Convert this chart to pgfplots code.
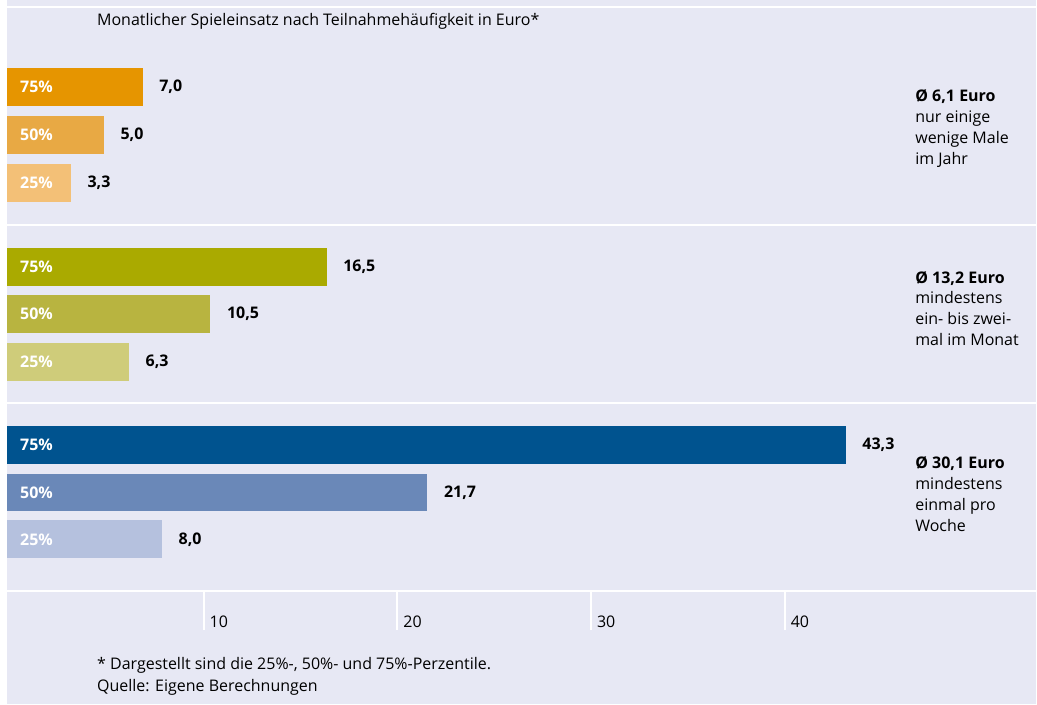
\documentclass[border=0pt]{standalone}
\usepackage{pgfplots}
\pgfplotsset{compat=1.18}
\usepackage{fontspec}
\setmainfont{Open Sans}
\definecolor{bg}{HTML}{E7E8F4}
\definecolor{oA}{HTML}{E69500}
\definecolor{oB}{HTML}{E8A944}
\definecolor{oC}{HTML}{F3C077}
\definecolor{gA}{HTML}{AAAA00}
\definecolor{gB}{HTML}{B8B440}
\definecolor{gC}{HTML}{CFCC7A}
\definecolor{bA}{HTML}{00538F}
\definecolor{bB}{HTML}{6A88B8}
\definecolor{bC}{HTML}{B5C1DE}
\newcommand{\tf}{\fontsize{12}{15.75}\selectfont}
\begin{document}
\begin{tikzpicture}
\begin{axis}[
  scale only axis, width=777.75pt, height=528.75pt,
  xmin=-0.361, xmax=53.12, ymin=0, ymax=705, y dir=reverse,
  axis lines=none, xtick=\empty, ytick=\empty,
  axis background/.style={fill=bg},
  xbar, bar width=38, bar shift=0pt, clip=false,
  point meta=x,
  nodes near coords,
  every node near coord/.append style={anchor=west, xshift=9pt, text=black,
     font=\tf\bfseries,
     /pgf/number format/assume math mode=true,
     /pgf/number format/fixed, /pgf/number format/fixed zerofill,
     /pgf/number format/precision=1, /pgf/number format/use comma},
]
% white strip and separator lines
\fill[white] (axis cs:-0.361,0) rectangle (axis cs:-0.02,705);
\pgfplotsinvokeforeach{7,225,403,592}{
  \draw[white, line width=1.6pt] (axis cs:0,#1) -- (axis cs:53.12,#1);
}
\pgfplotsinvokeforeach{10,20,30,40}{
  \draw[white, line width=1.6pt] (axis cs:#1+0.15,592) -- (axis cs:#1+0.15,631);
  \node[anchor=base west, inner sep=0pt, font=\tf] at (axis cs:#1+0.45,628) {#1};
}
% bars
\addplot[fill=oA, draw=none] coordinates {(7.0,87)};
\addplot[fill=oB, draw=none] coordinates {(5.0,135)};
\addplot[fill=oC, draw=none] coordinates {(3.3,183)};
\addplot[fill=gA, draw=none] coordinates {(16.5,267)};
\addplot[fill=gB, draw=none] coordinates {(10.5,314)};
\addplot[fill=gC, draw=none] coordinates {(6.3,362)};
\addplot[fill=bA, draw=none] coordinates {(43.3,445)};
\addplot[fill=bB, draw=none] coordinates {(21.7,493)};
\addplot[fill=bC, draw=none] coordinates {(8.0,540)};
% percentile labels
\pgfplotsinvokeforeach{87,267,445}{
  \node[anchor=west, inner sep=0pt, text=white, font=\tf\bfseries] at (axis cs:0.67,#1) {75\%};
}
\pgfplotsinvokeforeach{135,314,493}{
  \node[anchor=west, inner sep=0pt, text=white, font=\tf\bfseries] at (axis cs:0.67,#1) {50\%};
}
\pgfplotsinvokeforeach{183,362,540}{
  \node[anchor=west, inner sep=0pt, text=white, font=\tf\bfseries] at (axis cs:0.67,#1) {25\%};
}
% title
\node[anchor=base west, inner sep=0pt, font=\tf] at (axis cs:4.64,26) {Monatlicher Spieleinsatz nach Teilnahmehäufigkeit in Euro*};
% right annotations
\node[anchor=north west, inner sep=0pt, align=left, font=\tf] at (axis cs:46.88,89) {\textbf{Ø 6,1 Euro}\\nur einige\\wenige Male\\im Jahr};
\node[anchor=north west, inner sep=0pt, align=left, font=\tf] at (axis cs:46.88,271) {\textbf{Ø 13,2 Euro}\\mindestens\\ein- bis zwei-\\mal im Monat};
\node[anchor=north west, inner sep=0pt, align=left, font=\tf] at (axis cs:46.88,457) {\textbf{Ø 30,1 Euro}\\mindestens\\einmal pro\\Woche};
% footnote
\node[anchor=base west, inner sep=0pt, font=\tf] at (axis cs:4.64,670) {* Dargestellt sind die 25\%-, 50\%- und 75\%-Perzentile.};
\node[anchor=base west, inner sep=0pt, font=\tf] at (axis cs:4.64,692) {Quelle: Eigene Berechnungen};
\end{axis}
\end{tikzpicture}
\end{document}
